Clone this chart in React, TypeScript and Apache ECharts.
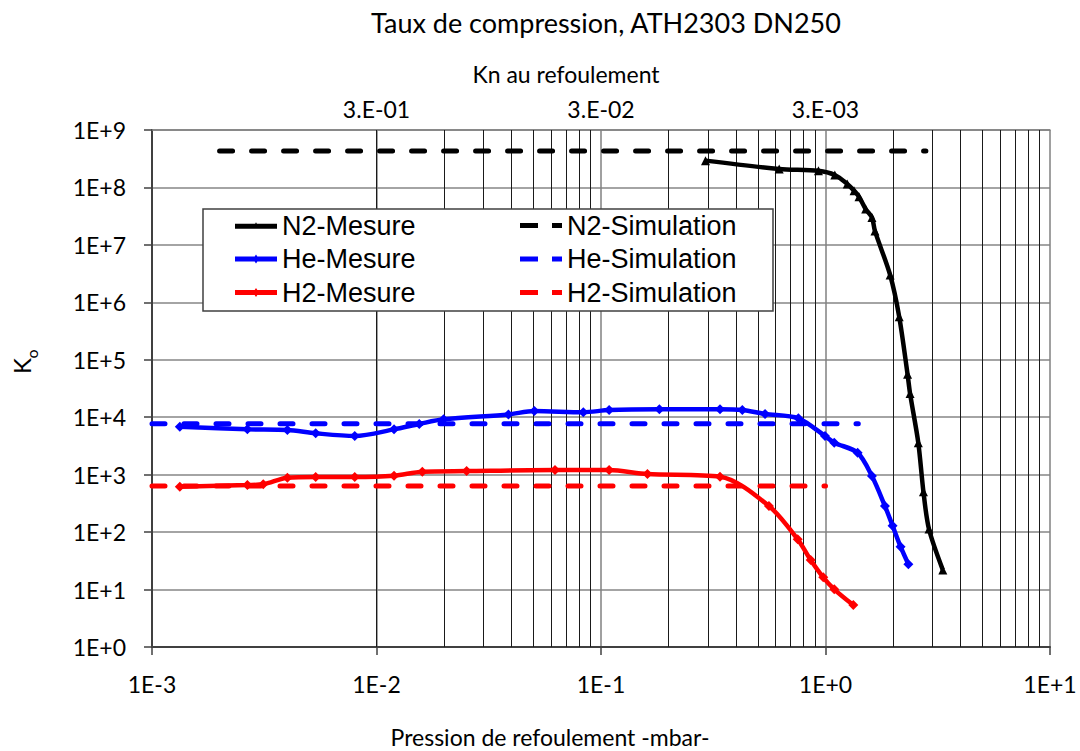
import React, { useEffect, useRef } from 'react';
import * as echarts from 'echarts';

// ---- Data ----
const n2MesureP = [0.292, 0.622, 0.93, 1.1, 1.25, 1.34, 1.41, 1.51, 1.61, 1.66, 1.94, 2.13, 2.32, 2.38, 2.59, 2.73, 2.89, 3.33];
const n2MesureK = [2.93e8, 2.1e8, 1.95e8, 1.65e8, 1.15e8, 8.8e7, 6.9e7, 4.2e7, 3.0e7, 1.75e7, 3.0e6, 5.6e5, 5.6e4, 2.6e4, 3.6e3, 505, 113, 22];

const heMesureP = [0.00133, 0.00266, 0.00401, 0.00536, 0.008, 0.01197, 0.0155, 0.0199, 0.0387, 0.0505, 0.0834, 0.1087, 0.182, 0.339, 0.426, 0.538, 0.757, 0.995, 1.094, 1.39, 1.61, 1.84, 1.99, 2.16, 2.34];
const heMesureK = [6840, 6150, 5980, 5250, 4710, 6150, 7620, 9190, 11200, 12800, 12200, 13300, 13700, 13700, 13300, 11400, 9560, 4710, 3600, 2410, 946, 284, 129, 55.7, 27.5];

const h2MesureP = [0.00133, 0.00266, 0.00313, 0.00401, 0.00536, 0.008, 0.01197, 0.016, 0.0252, 0.0624, 0.1087, 0.161, 0.339, 0.56, 0.752, 0.859, 0.977, 1.094, 1.33];
const h2MesureK = [617, 660, 680, 885, 910, 910, 960, 1125, 1156, 1205, 1200, 1025, 922, 284, 74.8, 32.7, 16.3, 10.1, 5.37];

const n2SimP = [0.002, 2.8];
const n2SimK = [4.3e8, 4.3e8];
const heSimP = [0.001, 1.4];
const heSimK = [7700, 7700];
const h2SimP = [0.001, 1.0];
const h2SimK = [634, 634];

const seriesNames = ['N2-Mesure', 'He-Mesure', 'H2-Mesure', 'N2-Simulation', 'He-Simulation', 'H2-Simulation'];

// tick labels
const xTickLabels: Record<number, string> = { [-3]: '1E-3', [-2]: '1E-2', [-1]: '1E-1', 0: '1E+0', 1: '1E+1' };
const yTickLabels: Record<number, string> = { 0: '1E+0', 1: '1E+1', 2: '1E+2', 3: '1E+3', 4: '1E+4', 5: '1E+5', 6: '1E+6', 7: '1E+7', 8: '1E+8', 9: '1E+9' };
const knTickLabels: Record<number, string> = { [-2]: '3.E-01', [-1]: '3.E-02', 0: '3.E-03' };

// minor vertical gridlines (2..9 in each decade)
const minorDecades = [-3, -2, -1, 0];
const minorMultipliers = [2, 3, 4, 5, 6, 7, 8, 9];

// legend icons (line + marker / dashed line)
const iconTriangle = 'path://M0,4 H42 V9 H0 Z M21,2.5 L24.5,9 L17.5,9 Z';
const iconDiamond = 'path://M0,4 H42 V9 H0 Z M21,2 L24,6.5 L21,11 L18,6.5 Z';
const iconDash = 'path://M0,0 H18 V5 H0 Z M32,0 H42 V5 H32 Z';

const pairs = (p: number[], k: number[]) => p.map((v, i) => [v, k[i]]);
const expOf = (v: number) => Math.round(Math.log10(v));

const CAL = 'Lato';

export default function App() {
  const ref = useRef<HTMLDivElement>(null);

  useEffect(() => {
    if (!ref.current) return;
    const chart = echarts.init(ref.current, undefined, { renderer: 'svg' });

    const minorX: number[] = [];
    minorDecades.forEach((d) => minorMultipliers.forEach((m) => minorX.push(m * Math.pow(10, d))));

    const mesure = (name: string, p: number[], k: number[], color: string, symbol: string, size: number) => ({
      name,
      type: 'line',
      xAxisIndex: 0,
      yAxisIndex: 0,
      data: pairs(p, k),
      smooth: 0.3,
      symbol,
      symbolSize: size,
      showSymbol: true,
      lineStyle: { color, width: 4.5 },
      itemStyle: { color },
      z: 3,
      silent: true,
    });

    const sim = (name: string, p: number[], k: number[], color: string) => ({
      name,
      type: 'line',
      xAxisIndex: 0,
      yAxisIndex: 0,
      data: pairs(p, k),
      symbol: 'none',
      lineStyle: { color, width: 5, type: [13, 19], cap: 'round' },
      itemStyle: { color },
      z: 3,
      silent: true,
    });

    const legendBase = {
      orient: 'vertical',
      top: 212,
      padding: 0,
      itemWidth: 42,
      itemHeight: 12,
      itemGap: 6.5,
      selectedMode: false,
      z: 6,
      textStyle: { fontFamily: 'Liberation Sans', fontSize: 27, lineHeight: 27, color: '#000' },
    };

    const option: any = {
      animation: false,
      backgroundColor: '#fff',
      title: {
        text: 'Taux de compression, ATH2303 DN250',
        left: 601,
        top: 4,
        textAlign: 'center',
        textStyle: { fontFamily: CAL, fontSize: 27, fontWeight: 'normal', color: '#000' },
      },
      grid: { left: 152, right: 30, top: 130, bottom: 104, outerBoundsMode: 'none' },
      legend: [
        {
          ...legendBase,
          left: 235,
          data: [
            { name: seriesNames[0], icon: iconTriangle },
            { name: seriesNames[1], icon: iconDiamond },
            { name: seriesNames[2], icon: iconDiamond },
          ],
        },
        {
          ...legendBase,
          left: 520,
          data: [
            { name: seriesNames[3], icon: iconDash },
            { name: seriesNames[4], icon: iconDash },
            { name: seriesNames[5], icon: iconDash },
          ],
        },
      ],
      xAxis: [
        {
          type: 'log',
          logBase: 10,
          min: 0.001,
          max: 10,
          splitNumber: 4,
          position: 'bottom',
          axisLine: { show: true, onZero: false, lineStyle: { color: '#404040', width: 2 } },
          axisTick: { show: true, length: 8, lineStyle: { color: '#404040', width: 1.5 } },
          axisLabel: {
            margin: 25,
            fontFamily: CAL,
            fontSize: 23,
            color: '#000',
            formatter: (v: number) => xTickLabels[expOf(v)] ?? '',
          },
          splitLine: { show: true, lineStyle: { color: '#808080', width: 1.5 } },
          name: 'Pression de refoulement -mbar-',
          nameLocation: 'middle',
          nameGap: 78,
          nameTextStyle: { fontFamily: CAL, fontSize: 23, color: '#000', padding: [0, 102, 0, 0] },
        },
        {
          type: 'log',
          logBase: 10,
          min: 0.001,
          max: 10,
          splitNumber: 4,
          position: 'top',
          axisLine: { show: true, onZero: false, lineStyle: { color: '#808080', width: 1.5 } },
          axisTick: { show: false },
          axisLabel: {
            margin: 10,
            fontFamily: CAL,
            fontSize: 23,
            color: '#000',
            formatter: (v: number) => knTickLabels[expOf(v)] ?? '',
          },
          splitLine: { show: false },
          name: 'Kn au refoulement',
          nameLocation: 'middle',
          nameGap: 45,
          nameTextStyle: { fontFamily: CAL, fontSize: 23, color: '#000', padding: [0, 70, 0, 0] },
        },
      ],
      yAxis: {
        type: 'log',
        logBase: 10,
        min: 1,
        max: 1e9,
        splitNumber: 9,
        axisLine: { show: true, onZero: false, lineStyle: { color: '#404040', width: 2 } },
        axisTick: { show: true, length: 8, lineStyle: { color: '#404040', width: 1.5 } },
        axisLabel: {
          margin: 26,
          fontFamily: CAL,
          fontSize: 23,
          color: '#000',
          formatter: (v: number) => yTickLabels[expOf(v)] ?? '',
        },
        splitLine: { show: true, lineStyle: { color: '#868686', width: 1.5 } },
      },
      graphic: [
        {
          type: 'rect',
          z: 4,
          shape: { x: 203, y: 209, width: 570, height: 102 },
          style: { fill: '#fff', stroke: '#404040', lineWidth: 1.5 },
        },
        {
          type: 'text',
          x: 21,
          y: 366,
          rotation: Math.PI / 2,
          style: { text: 'K', fontFamily: CAL, fontSize: 24, fill: '#000', align: 'center', verticalAlign: 'middle' },
        },
        {
          type: 'text',
          x: 31,
          y: 354,
          rotation: Math.PI / 2,
          style: { text: 'o', fontFamily: CAL, fontSize: 16, fill: '#000', align: 'center', verticalAlign: 'middle' },
        },
      ],
      series: [
        {
          name: 'minor-grid',
          type: 'line',
          xAxisIndex: 0,
          yAxisIndex: 0,
          data: [],
          silent: true,
          z: 1,
          markLine: {
            silent: true,
            z: 1,
            symbol: ['none', 'none'],
            label: { show: false },
            emphasis: { disabled: true },
            lineStyle: { color: '#1a1a1a', width: 1, type: 'solid' },
            data: minorX.map((v) => ({ xAxis: v })),
          },
        },
        mesure(seriesNames[0], n2MesureP, n2MesureK, '#000000', 'triangle', 9),
        mesure(seriesNames[1], heMesureP, heMesureK, '#0000FF', 'diamond', 10),
        mesure(seriesNames[2], h2MesureP, h2MesureK, '#FF0000', 'diamond', 10),
        sim(seriesNames[3], n2SimP, n2SimK, '#000000'),
        sim(seriesNames[4], heSimP, heSimK, '#0000FF'),
        sim(seriesNames[5], h2SimP, h2SimK, '#FF0000'),
      ],
    };

    chart.setOption(option);
    return () => chart.dispose();
  }, []);

  return (
    <div
      ref={ref}
      style={{ position: 'fixed', left: 0, top: 0, width: 1080, height: 751 }}
    />
  );
}
